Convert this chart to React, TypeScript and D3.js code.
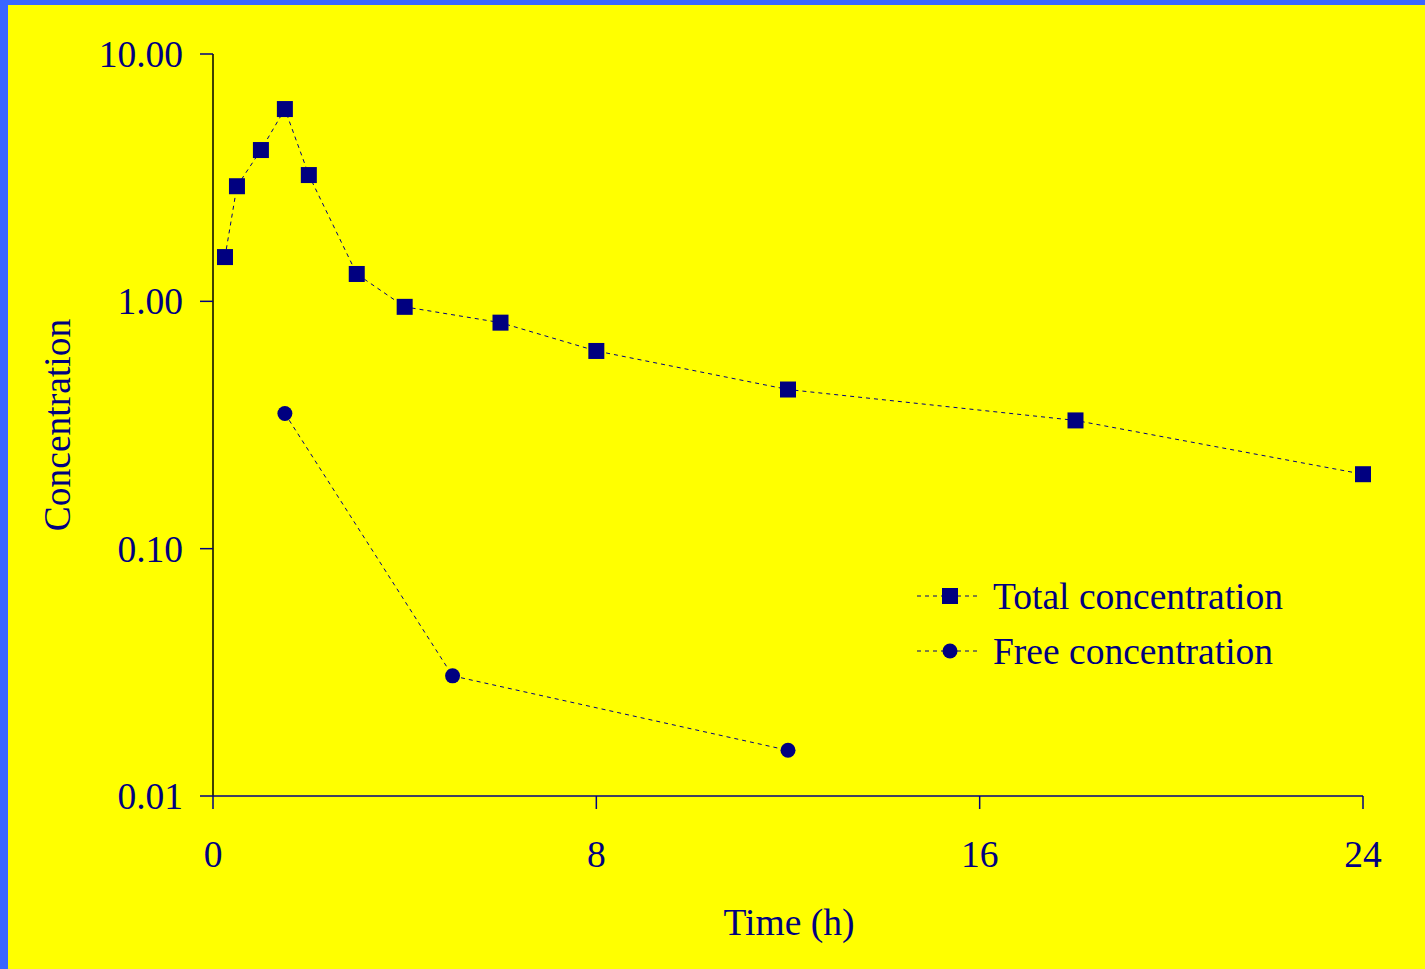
import React from "react";
import * as d3 from "d3";

// time points (h) and concentrations
const totalTime = [0.25, 0.5, 1, 1.5, 2, 3, 4, 6, 8, 12, 18, 24];
const totalConc = [1.51, 2.92, 4.09, 5.99, 3.24, 1.29, 0.95, 0.82, 0.63, 0.44, 0.33, 0.2];
const freeTime = [1.5, 5, 12];
const freeConc = [0.352, 0.0306, 0.0153];
const xTicks = [0, 8, 16, 24];
const yTicks = [0.01, 0.1, 1, 10];
const legendLabels = ["Total concentration", "Free concentration"];

const W = 1425;
const H = 969;
const NAVY = "#000080";
const FONT = "'Liberation Serif', 'Times New Roman', serif";

export default function App() {
  const x = d3.scaleLinear().domain([0, 24]).range([213, 1363]);
  const y = d3.scaleLog().domain([0.01, 10]).range([796, 54]);

  const total = totalTime.map((t, i) => [t, totalConc[i]] as [number, number]);
  const free = freeTime.map((t, i) => [t, freeConc[i]] as [number, number]);
  const line = d3
    .line<[number, number]>()
    .x((d) => x(d[0]))
    .y((d) => y(d[1]));

  const sq = 16;
  const fs = 37.5;
  return (
    <div style={{ position: "fixed", left: 0, top: 0, width: W, height: H }}>
      <svg width={W} height={H} style={{ display: "block" }}>
        <rect x={0} y={0} width={W} height={H} fill="#3a66ff" />
        <rect x={8} y={5} width={W - 8} height={H - 5} fill="#ffff00" />

        {/* axes */}
        <line x1={213} x2={213} y1={54} y2={796} stroke="#000" strokeWidth={1.5} />
        <line x1={213} x2={1363} y1={796} y2={796} stroke={NAVY} strokeWidth={1.5} />
        {yTicks.map((v) => (
          <g key={v}>
            <line x1={200} x2={213} y1={y(v)} y2={y(v)} stroke={NAVY} strokeWidth={1.5} />
            <text
              x={183}
              y={y(v) + 13}
              textAnchor="end"
              fontFamily={FONT}
              fontSize={fs}
              fill={NAVY}
            >
              {v.toFixed(2)}
            </text>
          </g>
        ))}
        {xTicks.map((v) => (
          <g key={v}>
            <line x1={x(v)} x2={x(v)} y1={796} y2={809} stroke={NAVY} strokeWidth={1.5} />
            <text
              x={x(v)}
              y={867}
              textAnchor="middle"
              fontFamily={FONT}
              fontSize={fs}
              fill={NAVY}
            >
              {v}
            </text>
          </g>
        ))}
        <text x={789} y={935} textAnchor="middle" fontFamily={FONT} fontSize={fs} fill={NAVY}>
          Time (h)
        </text>
        <text
          transform="translate(70,425) rotate(-90)"
          textAnchor="middle"
          fontFamily={FONT}
          fontSize={fs}
          fill={NAVY}
        >
          Concentration
        </text>

        {/* series */}
        <path d={line(total) || ""} fill="none" stroke={NAVY} strokeWidth={1} strokeDasharray="4,4" />
        <path d={line(free) || ""} fill="none" stroke={NAVY} strokeWidth={1} strokeDasharray="4,4" />
        {total.map((d, i) => (
          <rect
            key={i}
            x={x(d[0]) - sq / 2}
            y={y(d[1]) - sq / 2}
            width={sq}
            height={sq}
            fill={NAVY}
          />
        ))}
        {free.map((d, i) => (
          <circle key={i} cx={x(d[0])} cy={y(d[1])} r={7.5} fill={NAVY} />
        ))}

        {/* legend */}
        {legendLabels.map((lab, i) => {
          const ly = 596 + i * 55;
          return (
            <g key={lab}>
              <line x1={917} x2={978} y1={ly} y2={ly} stroke={NAVY} strokeWidth={1} strokeDasharray="4,4" />
              {i === 0 ? (
                <rect x={950 - sq / 2} y={ly - sq / 2} width={sq} height={sq} fill={NAVY} />
              ) : (
                <circle cx={950} cy={ly} r={7.5} fill={NAVY} />
              )}
              <text x={993} y={ly + 13} fontFamily={FONT} fontSize={fs} fill={NAVY}>
                {lab}
              </text>
            </g>
          );
        })}
      </svg>
    </div>
  );
}
